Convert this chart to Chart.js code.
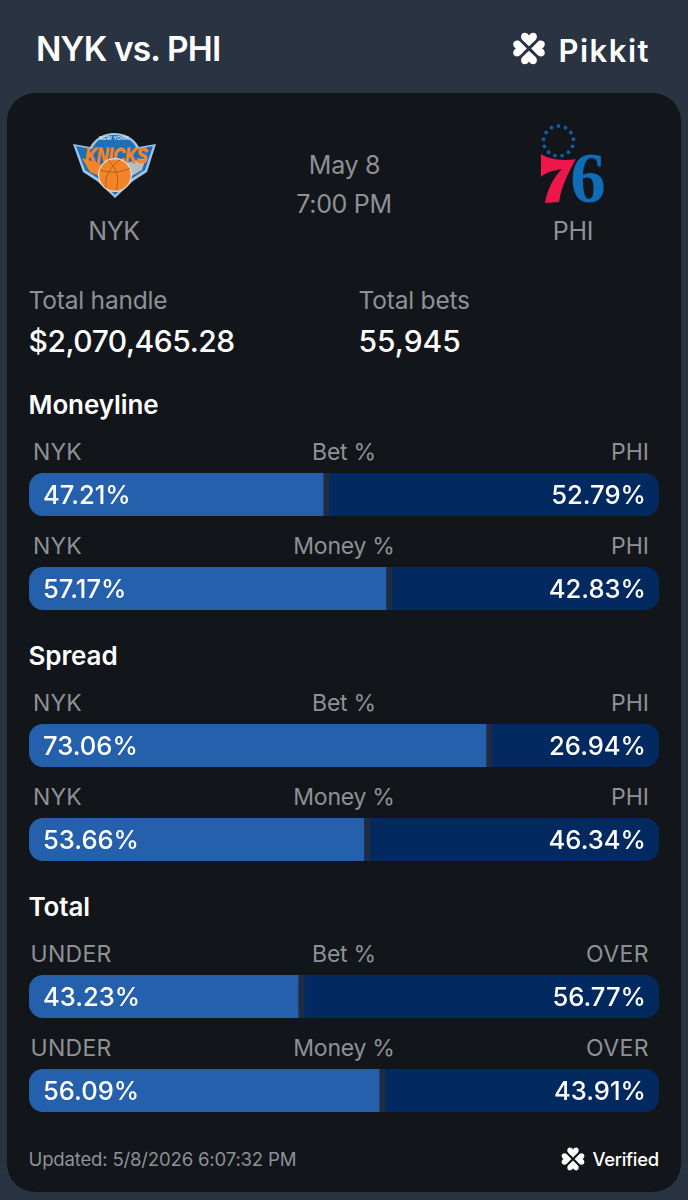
<!DOCTYPE html>
<html>
<head>
<meta charset="utf-8">
<title>NYK vs. PHI</title>
<script src="https://cdn.jsdelivr.net/npm/chart.js@4"></script>
<style>
  html, body { margin: 0; padding: 0; background: #2a3342; }
  #page { position: relative; width: 688px; height: 1200px; overflow: hidden; font-family: Inter, sans-serif; background: #2a3342; }
  #card { position: absolute; left: 7px; top: 93px; width: 674px; height: 1099px; border-radius: 28px; background: #12151a; }
  .t { position: absolute; white-space: nowrap; line-height: 1; }
  canvas { position: absolute; left: 29px; }
  svg { position: absolute; left: 0; top: 0; }
</style>
</head>
<body>
<div id="page">
  <div id="card"></div>
  <svg width="688" height="1200" viewBox="0 0 688 1200">
    <defs>
      <path id="petal" d="M0 -2.2 L-6.6 -8.6 C-9 -11 -8 -15.8 -4.4 -15.8 C-2.4 -15.8 -0.8 -14.6 0 -13 C0.8 -14.6 2.4 -15.8 4.4 -15.8 C8 -15.8 9 -11 6.6 -8.6Z"/>
      <g id="clover">
        <use href="#petal"/>
        <use href="#petal" transform="rotate(90)"/>
        <use href="#petal" transform="rotate(180)"/>
        <use href="#petal" transform="rotate(270)"/>
      </g>
    </defs>
    <use href="#clover" fill="#fff" transform="translate(529 48.5)"/>
    <use href="#clover" fill="#fff" transform="translate(573 1159) scale(0.72)"/>

    <!-- Knicks logo -->
    <path d="M73 144 L90 147 C95 138 104 133 114 133 C125 133 134 138 139 147 L156 144 L147 172 L133 181 L115 198 L97 181 L83 172Z" fill="#9fc6e4"/>
    <path d="M76 146 L92 149 C96 140 105 135 114 135 C124 135 133 140 137 149 L153 146 L145 170 L131 179 L115 195 L99 179 L85 170Z" fill="#1d6fb8"/>
    <path d="M122 164 L146 158 L142 170 L130 177Z" fill="#b9bdc0"/>
    <path d="M82 158 L90 172 L99 176 L101 164Z" fill="#f58426"/>
    <text x="0" y="0" transform="translate(85 163) scale(0.86 1.2)" font-family="Liberation Sans" font-weight="700" font-style="italic" font-size="19" fill="#f58426" stroke="#f58426" stroke-width="0.8">KNICKS</text>
    <text x="114" y="140" text-anchor="middle" font-family="Liberation Sans" font-weight="700" font-size="5.5" fill="#d9e4ee">NEW YORK</text>
    <circle cx="115" cy="175" r="17" fill="#d9e4ee"/>
    <circle cx="115" cy="175" r="15.8" fill="#f58426"/>
    <path d="M100 170 C108 173 122 173 130 168 M108 160 C117 168 120 180 116 190 M120 160 C110 166 104 178 106 188" fill="none" stroke="#9a5a20" stroke-width="0.8"/>

    <!-- 76ers logo -->
    <g id="stars" fill="#0f5ea8"></g>
    <path d="M541 154 C550 160 565 161 576 159 L579 153 C573 165 562 182 559 202 L545 203 C547 190 553 178 562 169 C552 171 546 172 541 177Z" fill="#ed174c"/>
    <text x="588" y="202" text-anchor="middle" font-family="Liberation Serif" font-weight="700" font-size="71" fill="#0f6db8">6</text>
  </svg>
</div>
<script>
// Values
var sectionNames = ["Moneyline", "Spread", "Total"];
var metricNames = ["Bet %", "Money %", "Bet %", "Money %", "Bet %", "Money %"];
var leftLabels = ["NYK", "NYK", "NYK", "NYK", "UNDER", "UNDER"];
var rightLabels = ["PHI", "PHI", "PHI", "PHI", "OVER", "OVER"];
var leftValues = [47.21, 57.17, 73.06, 53.66, 43.23, 56.09];
var rightValues = [52.79, 42.83, 26.94, 46.34, 56.77, 43.91];

var barTops = [473, 567, 724, 818, 975, 1069];
var sectionY = [404.5, 655.5, 906.5];

var page = document.getElementById("page");

function addText(text, x, cy, size, weight, color, align, spacing) {
    var el = document.createElement("div");
    el.className = "t";
    el.textContent = text;
    el.style.fontSize = size + "px";
    el.style.fontWeight = weight;
    el.style.color = color;
    el.style.top = (cy - size / 2) + "px";
    if (spacing) el.style.letterSpacing = spacing + "px";
    if (align === "right") el.style.right = (688 - x) + "px";
    else if (align === "center") { el.style.left = x + "px"; el.style.transform = "translateX(-50%)"; }
    else el.style.left = x + "px";
    page.appendChild(el);
}

var gray = "#8e9196";

// header and match info
addText("NYK vs. PHI", 36, 50, 33.5, 600, "#fff", "left", -0.85);
addText("Pikkit", 558.5, 50, 31, 600, "#fff", "left", 1.5);
addText("May 8", 344.5, 165, 25, 400, gray, "center", -0.3);
addText("7:00 PM", 344, 204, 25, 400, gray, "center", -0.3);
addText("NYK", 114, 231, 25, 400, gray, "center", -0.3);
addText("PHI", 573, 231, 25, 400, gray, "center", -0.3);
addText("Total handle", 28.5, 300, 24.5, 400, gray, "left", -0.2);
addText("$2,070,465.28", 28.5, 341, 30, 500, "#fff", "left", -0.45);
addText("Total bets", 358.5, 300, 24.5, 400, gray, "left", -0.2);
addText("55,945", 358.5, 341, 30, 500, "#fff", "left");
addText("Updated: 5/8/2026 6:07:32 PM", 28.5, 1159.5, 18.6, 400, gray, "left", -0.2);
addText("Verified", 592.5, 1159.5, 18.4, 500, "#fff", "left", -0.3);

sectionNames.forEach(function (name, i) {
    addText(name, 28.5, sectionY[i], 26, 600, "#fff", "left", -0.1);
});

// ring of stars over the 76
var stars = document.getElementById("stars");
for (var s = 0; s < 13; s++) {
    var a = s / 13 * 2 * Math.PI;
    var c = document.createElementNS("http://www.w3.org/2000/svg", "circle");
    c.setAttribute("cx", 558.5 + 15 * Math.sin(a));
    c.setAttribute("cy", 141 - 15 * Math.cos(a));
    c.setAttribute("r", 1.9);
    stars.appendChild(c);
}

// writes the percentage inside each segment
var valueLabels = {
    id: "valueLabels",
    afterDatasetsDraw: function (chart) {
        var ctx = chart.ctx;
        ctx.save();
        ctx.font = "500 25.6px Inter, sans-serif";
        ctx.fillStyle = "#fff";
        ctx.textBaseline = "middle";
        chart.data.datasets.forEach(function (ds, d) {
            var bar = chart.getDatasetMeta(d).data[0];
            var label = ds.data[0].toFixed(2) + "%";
            ctx.textAlign = d === 0 ? "left" : "right";
            ctx.fillText(label, d === 0 ? 14 : chart.width - 13, bar.y + 1.5);
        });
        ctx.restore();
    }
};

function drawBar(i) {
    var wide = leftLabels[i] === "UNDER";
    addText(leftLabels[i], wide ? 30.5 : 33, barTops[i] - 21, 23, 400, gray, "left", wide ? 0.3 : 0.1);
    addText(metricNames[i], 344, barTops[i] - 21, 23, 400, gray, "center", -0.25);
    addText(rightLabels[i], 649, barTops[i] - 21, 23, 400, gray, "right", wide ? 0.4 : 0);

    var canvas = document.createElement("canvas");
    canvas.width = 630;
    canvas.height = 43;
    canvas.style.top = barTops[i] + "px";
    page.appendChild(canvas);

    new Chart(canvas.getContext("2d"), {
        type: "bar",
        data: {
            labels: [metricNames[i]],
            datasets: [{
                data: [leftValues[i]],
                backgroundColor: "#2460ab",
                borderColor: "#1f2c44",
                borderWidth: { left: 0, right: 3.5, top: 0, bottom: 0 },
                borderSkipped: false,
                borderRadius: { topLeft: 14, bottomLeft: 14, topRight: 0, bottomRight: 0 },
                inflateAmount: 0.5
            }, {
                data: [rightValues[i]],
                backgroundColor: "#022a60",
                borderColor: "#1f2c44",
                borderWidth: { left: 3.5, right: 0, top: 0, bottom: 0 },
                borderSkipped: false,
                borderRadius: { topLeft: 0, bottomLeft: 0, topRight: 14, bottomRight: 14 },
                inflateAmount: 0.5
            }]
        },
        options: {
            indexAxis: "y",
            responsive: false,
            animation: false,
            categoryPercentage: 1,
            barPercentage: 1,
            layout: { padding: 0 },
            plugins: { legend: { display: false }, tooltip: { enabled: false } },
            scales: {
                x: { stacked: true, min: 0, max: 100, display: false },
                y: { stacked: true, display: false }
            }
        },
        plugins: [valueLabels]
    });
}

for (var i = 0; i < leftValues.length; i++) {
    drawBar(i);
}
</script>
</body>
</html>
